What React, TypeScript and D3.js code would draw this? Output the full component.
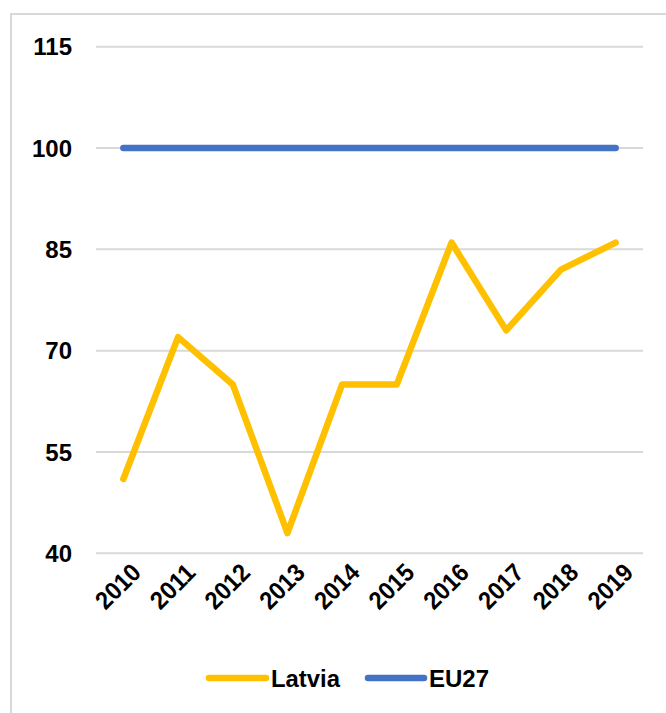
import React from "react";
import * as d3 from "d3";

const years = ["2010", "2011", "2012", "2013", "2014", "2015", "2016", "2017", "2018", "2019"];
const latvia = [51, 72, 65, 43, 65, 65, 86, 73, 82, 86];
const eu27 = [100, 100, 100, 100, 100, 100, 100, 100, 100, 100];
const yTicks = [40, 55, 70, 85, 100, 115];

const W = 666;
const H = 713;
const FONT = "'Liberation Sans', Arial, sans-serif";

export default function App() {
  const x = d3.scaleBand<string>().domain(years).range([96, 643]);
  const y = d3.scaleLinear().domain([40, 115]).range([553.3, 46.7]);
  const cx = (d: string) => (x(d) as number) + x.bandwidth() / 2;

  const line = d3
    .line<number>()
    .x((_, i) => cx(years[i]))
    .y((v) => y(v));

  return (
    <svg
      width={W}
      height={H}
      style={{ position: "absolute", left: 0, top: 0, background: "#fff" }}
      fontFamily={FONT}
    >
      <rect x={0} y={0} width={W} height={H} fill="#fff" />
      <rect x={11} y={14} width={W + 20} height={H + 20} fill="none" stroke="#d9d9d9" strokeWidth={2} />
      {yTicks.map((t) => (
        <g key={t}>
          <line x1={96} x2={643} y1={y(t)} y2={y(t)} stroke="#d9d9d9" strokeWidth={2} />
          <text x={72} y={y(t)} dy="0.36em" textAnchor="end" fontSize={24} fontWeight="bold" fill="#000">
            {t}
          </text>
        </g>
      ))}
      {years.map((yr) => (
        <text
          key={yr}
          transform={`translate(${cx(yr) + 19},${574}) rotate(-45)`}
          textAnchor="end"
          fontSize={25}
          fontWeight="bold"
          fill="#000"
          textLength={52}
          lengthAdjust="spacingAndGlyphs"
        >
          {yr}
        </text>
      ))}
      <path d={line(eu27) || ""} fill="none" stroke="#4472C4" strokeWidth={6.5} strokeLinecap="round" strokeLinejoin="round" />
      <path d={line(latvia) || ""} fill="none" stroke="#FFC000" strokeWidth={6.5} strokeLinecap="round" strokeLinejoin="round" />
      <g>
        <line x1={209} x2={266} y1={678} y2={678} stroke="#FFC000" strokeWidth={6.5} strokeLinecap="round" />
        <text x={271} y={678} dy="0.36em" fontSize={24} fontWeight="bold" fill="#000" textLength={69} lengthAdjust="spacingAndGlyphs">Latvia</text>
        <line x1={368} x2={424} y1={678} y2={678} stroke="#4472C4" strokeWidth={6.5} strokeLinecap="round" />
        <text x={429} y={678} dy="0.36em" fontSize={24} fontWeight="bold" fill="#000" textLength={60} lengthAdjust="spacingAndGlyphs">EU27</text>
      </g>
    </svg>
  );
}
